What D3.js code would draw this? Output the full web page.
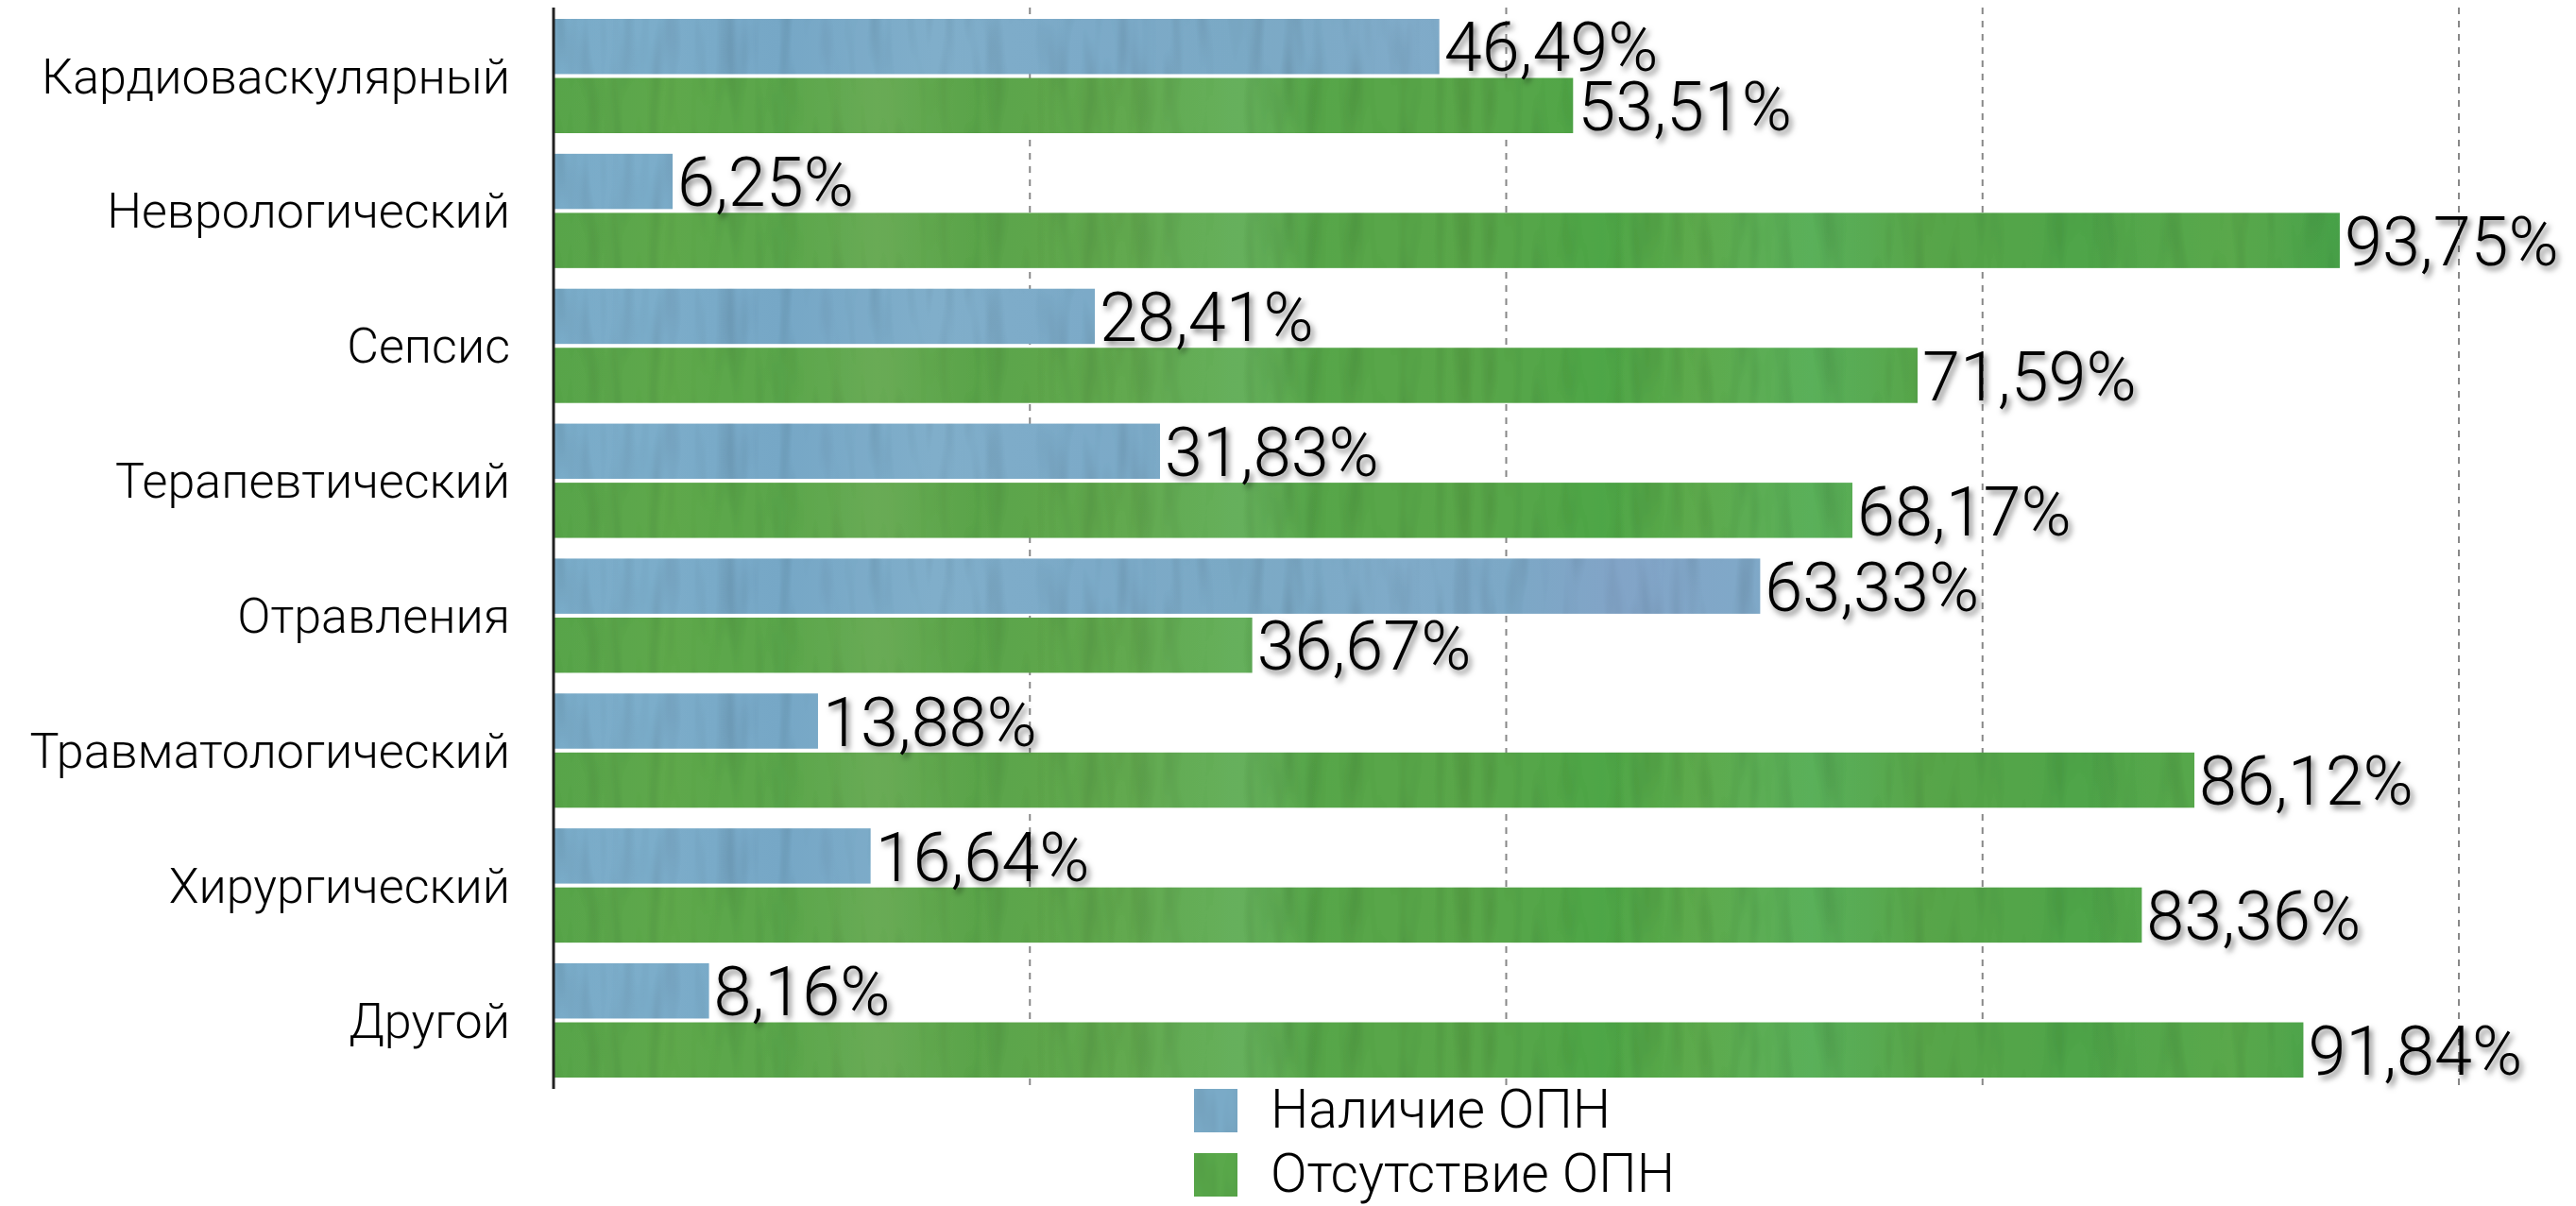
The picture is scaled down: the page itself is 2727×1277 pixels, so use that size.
<!DOCTYPE html>
<html>
<head>
<meta charset="utf-8">
<script src="https://cdn.jsdelivr.net/npm/d3@7"></script>
<style>
  html, body { margin: 0; padding: 0; background: #ffffff; }
  svg { display: block; }
</style>
</head>
<body>
<svg id="chart" width="2727" height="1277"></svg>
<script>
const categories = ["Кардиоваскулярный", "Неврологический", "Сепсис", "Терапевтический", "Отравления", "Травматологический", "Хирургический", "Другой"];
const seriesNames = ["Наличие ОПН", "Отсутствие ОПН"];
const presentValues = [46.49, 6.25, 28.41, 31.83, 63.33, 13.88, 16.64, 8.16];
const absentValues = [53.51, 93.75, 71.59, 68.17, 36.67, 86.12, 83.36, 91.84];
const gridTicks = [25, 50, 75, 100];

const rows = categories.map((c, i) => ({
  category: c,
  values: [
    { series: seriesNames[0], value: presentValues[i] },
    { series: seriesNames[1], value: absentValues[i] }
  ]
}));

const svg = d3.select("#chart");
const plot = { left: 586, right: 2603, top: 9, bottom: 1152 };

const x = d3.scaleLinear().domain([0, 100]).range([plot.left, plot.right]);
const y0 = d3.scaleBand().domain(categories).range([plot.top, plot.bottom])
  .paddingInner(0.153).paddingOuter(0.077);
const y1 = d3.scaleBand().domain(seriesNames).range([0, y0.bandwidth()]).paddingInner(0.065);

const fmt = v => d3.format(".2f")(v).replace(".", ",") + "%";

// ---------- defs: textures ----------
const defs = svg.append("defs");

function grad(id, stops) {
  const g = defs.append("linearGradient").attr("id", id)
    .attr("gradientUnits", "userSpaceOnUse")
    .attr("x1", plot.left).attr("x2", plot.right).attr("y1", 0).attr("y2", 0);
  stops.forEach(s => g.append("stop").attr("offset", s[0]).attr("stop-color", s[1]));
}
grad("blueGrad", [
  [0, "#79abc8"], [0.05, "#7cadca"], [0.12, "#76a7c6"], [0.2, "#80aeca"],
  [0.28, "#7caac8"], [0.36, "#7aa9c5"], [0.45, "#80abc9"], [0.5, "#7ca8c6"],
  [0.56, "#82a4c7"], [0.62, "#80a8c8"], [0.7, "#78a8c4"], [0.8, "#7eaac8"], [1, "#78a8c5"]
]);
grad("greenGrad", [
  [0, "#58a44a"], [0.06, "#5ea84c"], [0.12, "#5aa64b"], [0.17, "#69ab55"],
  [0.22, "#5aa44a"], [0.3, "#62a94f"], [0.36, "#66b05c"], [0.4, "#57a64a"],
  [0.48, "#5aa64a"], [0.55, "#4ea646"], [0.6, "#5daa4d"], [0.66, "#5ab05a"],
  [0.72, "#58a54a"], [0.8, "#4fa54a"], [0.88, "#5aa84c"], [0.94, "#48a24a"], [1, "#55a54b"]
]);

const tex = defs.append("filter").attr("id", "tex")
  .attr("x", "0").attr("y", "0").attr("width", "1").attr("height", "1");
tex.append("feTurbulence").attr("type", "fractalNoise")
  .attr("baseFrequency", "0.05 0.008").attr("numOctaves", 2).attr("seed", 7).attr("result", "noise");
tex.append("feColorMatrix").attr("in", "noise").attr("type", "matrix")
  .attr("values", "0 0 0 0 0  0 0 0 0 0  0 0 0 0 0  0.5 0 0 0 -0.24").attr("result", "dark");
tex.append("feComposite").attr("in", "dark").attr("in2", "SourceGraphic").attr("operator", "in").attr("result", "darkIn");
const merge = tex.append("feMerge");
merge.append("feMergeNode").attr("in", "SourceGraphic");
merge.append("feMergeNode").attr("in", "darkIn");

const shadow = defs.append("filter").attr("id", "shadow")
  .attr("x", "-10%").attr("y", "-20%").attr("width", "130%").attr("height", "150%");
shadow.append("feDropShadow").attr("dx", 3).attr("dy", 4).attr("stdDeviation", 3)
  .attr("flood-color", "#000").attr("flood-opacity", 0.55);

const fillFor = s => s === seriesNames[0] ? "url(#blueGrad)" : "url(#greenGrad)";

// ---------- gridlines ----------
svg.append("g").attr("class", "grid")
  .selectAll("line").data(gridTicks).join("line")
  .attr("x1", d => x(d)).attr("x2", d => x(d))
  .attr("y1", plot.top - 1).attr("y2", plot.bottom + 1)
  .attr("stroke", "#888").attr("stroke-width", 2)
  .attr("stroke-dasharray", "7,7");

// ---------- bars ----------
const groups = svg.append("g").selectAll("g.cat").data(rows).join("g")
  .attr("class", "cat")
  .attr("transform", d => `translate(0,${y0(d.category)})`);

groups.selectAll("rect").data(d => d.values).join("rect")
  .attr("x", x(0))
  .attr("y", d => y1(d.series))
  .attr("width", d => x(d.value) - x(0))
  .attr("height", y1.bandwidth())
  .attr("fill", d => fillFor(d.series))
  .attr("filter", "url(#tex)");

// ---------- value labels ----------
groups.selectAll("text.val").data(d => d.values).join("text")
  .attr("class", "val")
  .attr("x", d => x(d.value) + 5)
  .attr("y", d => y1(d.series) + y1.bandwidth() - 3)
  .attr("font-family", "Roboto, 'Liberation Sans', sans-serif")
  .attr("font-weight", 300)
  .attr("font-size", 72)
  .attr("fill", "#000")
  .attr("filter", "url(#shadow)")
  .text(d => fmt(d.value));

// ---------- axis line ----------
svg.append("line")
  .attr("x1", x(0)).attr("x2", x(0))
  .attr("y1", plot.top - 1).attr("y2", plot.bottom + 1)
  .attr("stroke", "#222").attr("stroke-width", 3);

// ---------- category labels ----------
svg.append("g").selectAll("text").data(categories).join("text")
  .attr("x", 540)
  .attr("y", d => y0(d) + y0.bandwidth() / 2 + 18)
  .attr("text-anchor", "end")
  .attr("font-family", "Roboto, 'Liberation Sans', sans-serif")
  .attr("font-weight", 300)
  .attr("font-size", 52)
  .attr("fill", "#000")
  .text(d => d);

// ---------- legend ----------
const legend = svg.append("g").attr("transform", "translate(1264,1153)");
const li = legend.selectAll("g").data(seriesNames).join("g")
  .attr("transform", (d, i) => `translate(0,${i * 68})`);
li.append("rect").attr("width", 46).attr("height", 46)
  .attr("fill", (d, i) => i === 0 ? "#7aaac7" : "#5aa84c")
  .attr("filter", "url(#tex)");
li.append("text").attr("x", 81).attr("y", 41)
  .attr("font-family", "Roboto, 'Liberation Sans', sans-serif")
  .attr("font-weight", 300)
  .attr("font-size", 57)
  .attr("fill", "#000")
  .text(d => d);
</script>
</body>
</html>
